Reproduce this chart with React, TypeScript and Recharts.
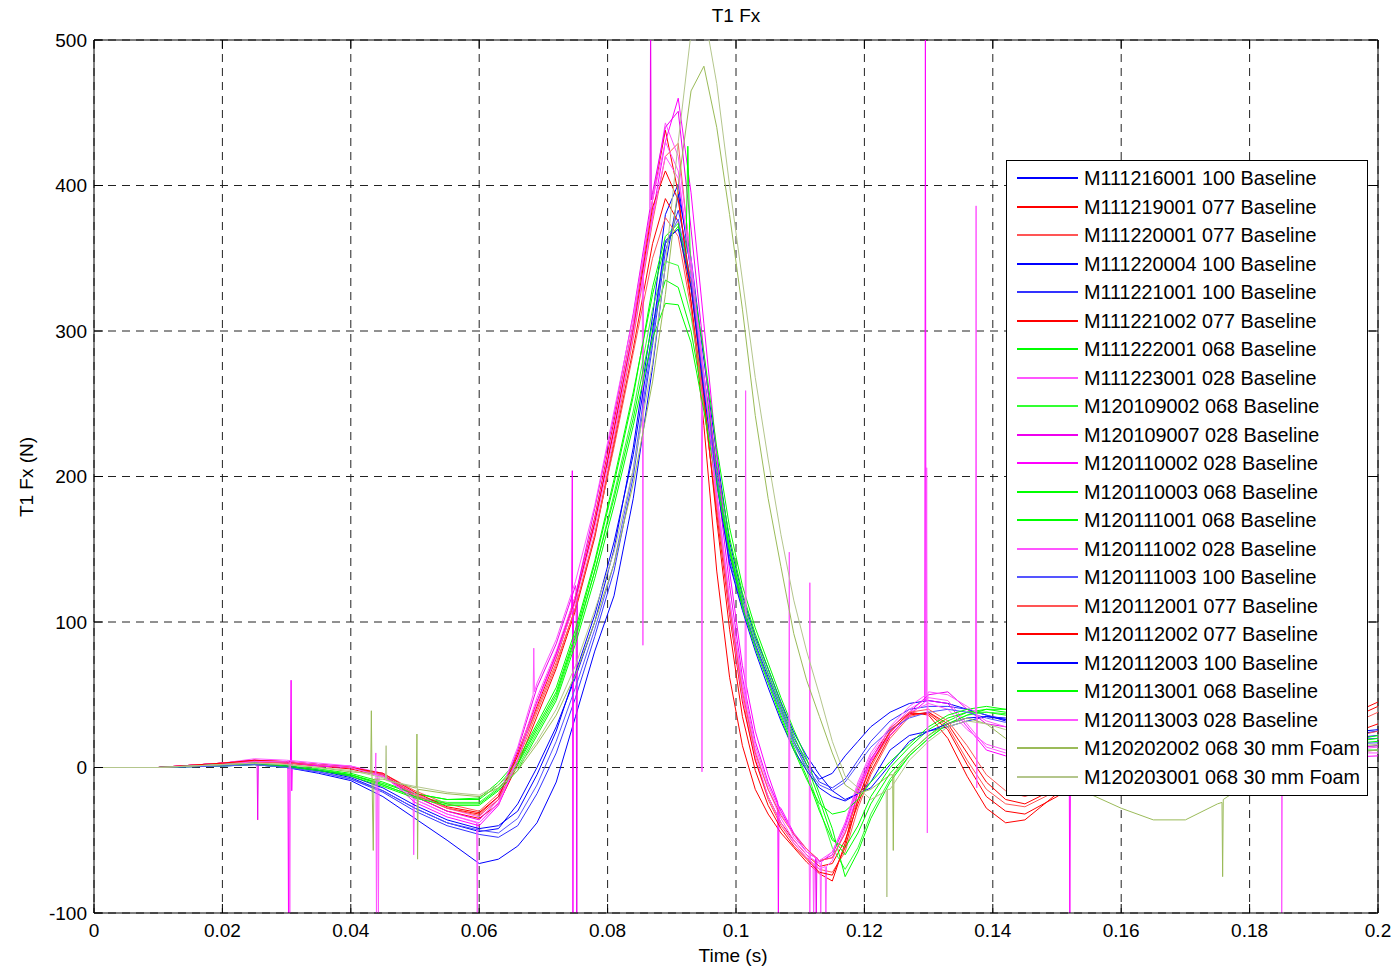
import React from "react";
import { LineChart, Line, XAxis, YAxis, CartesianGrid, ReferenceLine } from "recharts";

// sample times (s) shared by all runs
const T = [
  0, 0.01, 0.02, 0.025, 0.03, 0.035, 0.04, 0.045,
  0.05, 0.055, 0.06, 0.063, 0.066, 0.069, 0.072, 0.075,
  0.078, 0.081, 0.084, 0.087, 0.089, 0.091, 0.093, 0.095,
  0.097, 0.099, 0.101, 0.103, 0.105, 0.107, 0.109, 0.111,
  0.113, 0.115, 0.117, 0.119, 0.121, 0.124, 0.127, 0.13,
  0.133, 0.136, 0.139, 0.142, 0.145, 0.15, 0.155, 0.16,
  0.165, 0.17, 0.175, 0.18, 0.185, 0.19, 0.195, 0.2,
];

// T1 Fx (N) per run at the times above
const M111216001 = [
  0, 0, 2, 3, 1, -2, -7, -16,
  -28, -38, -44, -42, -25, 0, 28, 62,
  100, 150, 220, 310, 380, 401, 340, 265,
  200, 145, 112, 85, 62, 40, 18, 2,
  -8, -4, 8, 18, 28, 38, 44, 46,
  44, 40, 36, 32, 30, 28, 26, 25,
  24, 22, 22, 20, 20, 22, 22, 25,
];
const M111219001 = [
  0, 0, 3, 5, 4, 2, 0, -5,
  -18, -28, -32, -20, 10, 45, 78, 118,
  172, 238, 305, 390, 438, 395, 320, 235,
  135, 62, 15, -15, -32, -45, -55, -65,
  -73, -78, -52, -16, 5, 27, 38, 36,
  20, -6, -28, -38, -36, -18, -5, 5,
  12, 15, 14, 12, 15, 25, 35, 45,
];
const M111220001 = [
  0, 0, 3, 4, 4, 2, 0, -4,
  -16, -25, -30, -18, 8, 40, 72, 110,
  160, 225, 295, 375, 420, 429, 345, 265,
  185, 110, 48, 5, -22, -40, -52, -62,
  -70, -72, -58, -28, -5, 20, 35, 38,
  28, 5, -15, -25, -27, -16, -4, 6,
  12, 14, 12, 12, 14, 20, 28, 38,
];
const M111220004 = [
  0, 0, 1, 2, 0, -4, -9, -20,
  -35, -50, -66, -63, -54, -38, -10, 35,
  80, 118, 185, 275, 345, 394, 350, 280,
  215, 155, 118, 90, 68, 45, 24, 8,
  -5, -16, -22, -18, -10, 12, 22, 25,
  28, 32, 35, 34, 32, 28, 25, 22,
  20, 20, 18, 18, 18, 19, 20, 22,
];
const M111221001 = [
  0, 0, 2, 2, 0, -3, -8, -17,
  -30, -40, -46, -48, -40, -18, 10, 48,
  90, 135, 200, 290, 355, 383, 345, 270,
  205, 150, 115, 88, 65, 42, 20, 5,
  -10, -14, -8, 5, 18, 32, 40, 42,
  42, 40, 36, 33, 30, 27, 24, 22,
  20, 18, 18, 17, 17, 18, 19, 20,
];
const M111221002 = [
  0, 0, 3, 4, 3, 1, -1, -6,
  -20, -30, -35, -25, 2, 35, 68, 108,
  158, 222, 288, 360, 391, 375, 320, 250,
  175, 105, 45, 5, -20, -38, -50, -60,
  -68, -66, -50, -25, -3, 22, 36, 38,
  30, 10, -10, -22, -25, -14, -2, 6,
  10, 12, 12, 11, 12, 16, 22, 30,
];
const M111222001 = [
  0, 0, 2, 3, 1, -1, -4, -10,
  -18, -22, -22, -12, 3, 28, 52, 92,
  140, 195, 255, 330, 365, 374, 330, 268,
  208, 158, 120, 92, 68, 44, 22, 2,
  -22, -48, -60, -45, -25, -4, 10, 22,
  32, 38, 38, 36, 34, 30, 26, 22,
  20, 18, 16, 15, 15, 15, 16, 18,
];
const M111223001 = [
  0, 0, 3, 5, 4, 2, 0, -6,
  -22, -32, -38, -24, 8, 48, 80, 118,
  170, 235, 305, 390, 443, 420, 350, 270,
  190, 115, 55, 12, -15, -35, -50, -60,
  -66, -58, -38, -12, 8, 26, 40, 48,
  46, 30, 14, 10, 9, 8, 8, 8,
  8, 8, 8, 8, 8, 9, 10, 12,
];
const M120109002 = [
  0, 0, 2, 3, 1, -1, -5, -12,
  -20, -24, -24, -14, 0, 24, 48, 88,
  135, 188, 245, 315, 348, 345, 310, 255,
  200, 152, 116, 88, 64, 40, 18, -2,
  -28, -55, -70, -55, -32, -8, 8, 20,
  30, 36, 38, 37, 34, 30, 26, 22,
  20, 18, 17, 16, 15, 14, 14, 15,
];
const M120109007 = [
  0, 0, 3, 5, 4, 2, 1, -5,
  -20, -30, -36, -22, 12, 55, 85, 125,
  178, 242, 312, 395, 440, 451, 370, 285,
  200, 125, 62, 18, -10, -30, -46, -58,
  -65, -60, -40, -14, 6, 24, 38, 50,
  52, 40, 30, 28, 26, 22, 18, 15,
  14, 13, 12, 12, 12, 12, 13, 15,
];
const M120110002 = [
  0, 0, 3, 5, 3, 1, 0, -5,
  -24, -34, -40, -26, 5, 45, 78, 116,
  168, 232, 300, 380, 430, 460, 395, 305,
  215, 135, 70, 25, -5, -28, -45, -56,
  -64, -62, -45, -18, 4, 22, 36, 46,
  44, 28, 12, 8, 7, 6, 6, 6,
  6, 6, 6, 6, 6, 6, 7, 8,
];
const M120110003 = [
  0, 0, 1, 2, 0, -2, -5, -12,
  -20, -25, -25, -15, 2, 26, 50, 90,
  135, 185, 240, 305, 335, 330, 300, 250,
  198, 150, 112, 84, 60, 36, 14, -6,
  -30, -50, -55, -40, -20, 0, 14, 26,
  34, 38, 40, 38, 35, 30, 25, 22,
  20, 18, 17, 16, 16, 16, 17, 20,
];
const M120111001 = [
  0, 0, 2, 3, 1, -2, -5, -11,
  -18, -22, -21, -10, 5, 30, 55, 95,
  142, 198, 258, 325, 360, 372, 340, 285,
  220, 165, 125, 96, 72, 48, 26, 6,
  -18, -42, -75, -58, -35, -10, 8, 20,
  30, 36, 40, 40, 38, 33, 28, 24,
  20, 18, 16, 14, 13, 12, 12, 12,
];
const M120111002 = [
  0, 0, 3, 6, 5, 3, 1, -4,
  -18, -28, -34, -20, 14, 58, 88, 128,
  180, 245, 310, 390, 430, 410, 340, 262,
  182, 108, 48, 8, -20, -38, -52, -62,
  -70, -64, -42, -15, 5, 24, 38, 44,
  40, 26, 16, 12, 10, 10, 9, 9,
  9, 9, 9, 9, 9, 10, 10, 10,
];
const M120111003 = [
  0, 0, 1, 2, 0, -3, -8, -16,
  -28, -38, -43, -45, -35, -12, 18, 55,
  95, 140, 205, 295, 360, 377, 335, 262,
  198, 142, 110, 84, 60, 38, 16, 0,
  -12, -16, -10, 2, 14, 26, 34, 38,
  40, 38, 34, 31, 28, 25, 22, 20,
  18, 17, 16, 16, 15, 15, 16, 17,
];
const M120112001 = [
  0, 0, 3, 4, 3, 2, 0, -5,
  -19, -28, -33, -22, 5, 38, 70, 110,
  160, 220, 285, 350, 378, 365, 315, 248,
  178, 110, 52, 10, -15, -33, -46, -56,
  -64, -62, -45, -22, 0, 24, 38, 40,
  32, 15, -5, -16, -20, -12, -2, 5,
  10, 12, 11, 10, 12, 15, 20, 25,
];
const M120112002 = [
  0, 0, 3, 5, 4, 2, 0, -4,
  -17, -27, -31, -20, 8, 42, 75, 115,
  168, 232, 300, 385, 410, 390, 330, 255,
  170, 95, 35, -2, -26, -42, -54, -63,
  -72, -74, -55, -22, 2, 25, 37, 37,
  26, 2, -20, -30, -32, -20, -6, 4,
  10, 13, 12, 12, 14, 22, 32, 42,
];
const M120112003 = [
  0, 0, 2, 3, 1, -2, -6, -14,
  -26, -36, -42, -40, -30, -5, 25, 65,
  105, 155, 215, 300, 362, 370, 330, 258,
  195, 140, 108, 80, 55, 32, 12, -2,
  -14, -20, -23, -18, -14, 2, 18, 25,
  30, 34, 35, 33, 31, 28, 26, 24,
  22, 21, 20, 20, 21, 22, 24, 26,
];
const M120113001 = [
  0, 0, 2, 3, 1, -2, -6, -13,
  -21, -26, -26, -16, -2, 22, 46, 85,
  130, 180, 235, 295, 319, 318, 292, 245,
  195, 148, 110, 82, 58, 34, 12, -8,
  -25, -32, -30, -22, -10, 4, 16, 28,
  36, 40, 42, 40, 36, 32, 28, 24,
  22, 20, 18, 17, 16, 16, 18, 22,
];
const M120113003 = [
  0, 0, 2, 4, 4, 2, 0, -6,
  -22, -32, -38, -25, 6, 44, 76, 114,
  165, 228, 298, 378, 420, 405, 345, 268,
  188, 115, 58, 15, -12, -32, -48, -58,
  -64, -58, -38, -10, 10, 28, 42, 52,
  50, 42, 32, 28, 25, 20, 16, 14,
  12, 11, 10, 10, 10, 11, 12, 14,
];
const M120202002 = [
  0, 0, 2, 3, 2, 0, -3, -8,
  -14, -18, -20, -14, -2, 16, 36, 64,
  100, 140, 195, 265, 325, 400, 465, 482,
  440, 380, 315, 242, 185, 138, 92, 60,
  35, 10, -12, -18, -15, -5, 10, 22,
  30, 34, 30, 20, 8, -8, -18, -28,
  -36, -36, -25, -10, 2, 8, 10, 12,
];
const M120203001 = [
  0, 0, 2, 3, 2, 0, -2, -7,
  -13, -17, -19, -12, 0, 18, 40, 70,
  108, 148, 205, 278, 345, 430, 505, 520,
  470, 400, 335, 268, 212, 160, 115, 80,
  50, 18, -6, -14, -22, -15, 5, 18,
  28, 32, 30, 26, 20, 12, 8, 6,
  5, 5, 6, 8, 10, 12, 14, 16,
];

// single-sample glitches, [time, value]
const GLITCH_M111223001: [number, number][] = [
  [0.0442, -5], [0.0443, -110], [0.0444, -6],
  [0.0497, -20], [0.0498, -60], [0.0499, -20],
  [0.0596, -38], [0.0597, -110], [0.0598, -38],
  [0.0854, 348], [0.0855, 84], [0.0856, 352],
  [0.1114, -62], [0.1115, -110], [0.1116, -62],
  [0.1131, -66], [0.1132, -110], [0.1133, -65],
];
const GLITCH_M120109007: [number, number][] = [
  [0.0254, 4], [0.0255, -36], [0.0256, 4],
  [0.0751, 122], [0.0752, -110], [0.0753, 124],
  [0.0866, 384], [0.0867, 520], [0.0868, 390],
  [0.1124, -62], [0.1125, -110], [0.1126, -62],
];
const GLITCH_M120110002: [number, number][] = [
  [0.0302, 4], [0.0303, -110], [0.0304, 3],
  [0.0306, 3], [0.0307, 60], [0.0308, -16], [0.0309, 3],
  [0.0744, 108], [0.0745, 204], [0.0746, -110], [0.0747, 112],
  [0.1065, -24], [0.1066, -110], [0.1067, -27],
  [0.1294, 45], [0.1295, 520], [0.1296, 46],
  [0.1519, 6], [0.152, -110], [0.1521, 6],
];
const GLITCH_M120111001: [number, number][] = [
  [0.0922, 353], [0.0925, 427], [0.0929, 342],
];
const GLITCH_M120111002: [number, number][] = [
  [0.0684, 50], [0.0685, 82], [0.0686, 52],
  [0.0946, 278], [0.0947, -3], [0.0948, 270],
  [0.1014, 40], [0.1015, 259], [0.1016, 38],
  [0.1114, -63], [0.1115, 127], [0.1116, -64],
  [0.1120, -66], [0.1121, -110], [0.1122, -66],
  [0.1139, -68], [0.114, -110], [0.1141, -68],
];
const GLITCH_M120113003: [number, number][] = [
  [0.0304, 4], [0.0305, -110], [0.0306, 4],
  [0.0438, -5], [0.0439, 10], [0.044, -110], [0.0441, -5],
  [0.1082, -40], [0.1083, 148], [0.1084, -42],
  [0.1296, 50], [0.1297, 206], [0.1298, -45], [0.1299, 51],
  [0.1373, 38], [0.1374, 386], [0.1375, -14], [0.1376, 36],
  [0.1849, 10], [0.185, -110], [0.1851, 10],
];
const GLITCH_M120202002: [number, number][] = [
  [0.0431, -4], [0.0432, 39], [0.0433, -6], [0.0435, -57], [0.0436, -8],
  [0.0502, -14], [0.0503, 23], [0.0504, -63], [0.0505, -15],
  [0.1244, -5], [0.1245, -57], [0.1246, -4],
  [0.1757, -24], [0.1758, -75], [0.1759, -22],
];
const GLITCH_M120203001: [number, number][] = [
  [0.0454, -8], [0.0455, 15], [0.0456, -9],
  [0.1234, -16], [0.1235, -89], [0.1236, -15],
];

const X_TICKS = [0, 0.02, 0.04, 0.06, 0.08, 0.1, 0.12, 0.14, 0.16, 0.18, 0.2];
const Y_TICKS = [-100, 0, 100, 200, 300, 400, 500];

const SERIES = [
  { name: "M111216001 100 Baseline", values: M111216001, glitches: [], color: "#0000ff" },
  { name: "M111219001 077 Baseline", values: M111219001, glitches: [], color: "#ff0000" },
  { name: "M111220001 077 Baseline", values: M111220001, glitches: [], color: "#ff5555" },
  { name: "M111220004 100 Baseline", values: M111220004, glitches: [], color: "#0000ff" },
  { name: "M111221001 100 Baseline", values: M111221001, glitches: [], color: "#3333ff" },
  { name: "M111221002 077 Baseline", values: M111221002, glitches: [], color: "#ff0000" },
  { name: "M111222001 068 Baseline", values: M111222001, glitches: [], color: "#00ff00" },
  { name: "M111223001 028 Baseline", values: M111223001, glitches: GLITCH_M111223001, color: "#ff55ff" },
  { name: "M120109002 068 Baseline", values: M120109002, glitches: [], color: "#33ff33" },
  { name: "M120109007 028 Baseline", values: M120109007, glitches: GLITCH_M120109007, color: "#ee00ee" },
  { name: "M120110002 028 Baseline", values: M120110002, glitches: GLITCH_M120110002, color: "#ff00ff" },
  { name: "M120110003 068 Baseline", values: M120110003, glitches: [], color: "#00ff00" },
  { name: "M120111001 068 Baseline", values: M120111001, glitches: GLITCH_M120111001, color: "#00ff00" },
  { name: "M120111002 028 Baseline", values: M120111002, glitches: GLITCH_M120111002, color: "#ff55ff" },
  { name: "M120111003 100 Baseline", values: M120111003, glitches: [], color: "#5555ff" },
  { name: "M120112001 077 Baseline", values: M120112001, glitches: [], color: "#ff5555" },
  { name: "M120112002 077 Baseline", values: M120112002, glitches: [], color: "#ff0000" },
  { name: "M120112003 100 Baseline", values: M120112003, glitches: [], color: "#0000ff" },
  { name: "M120113001 068 Baseline", values: M120113001, glitches: [], color: "#00ff00" },
  { name: "M120113003 028 Baseline", values: M120113003, glitches: GLITCH_M120113003, color: "#ff55ff" },
  { name: "M120202002 068 30 mm Foam", values: M120202002, glitches: GLITCH_M120202002, color: "#9bbb59" },
  { name: "M120203001 068 30 mm Foam", values: M120203001, glitches: GLITCH_M120203001, color: "#b4c68c" },
];

const FONT = '"Liberation Sans", Arial, Helvetica, sans-serif';
const W = 1397;
const H = 970;
// plot box in page pixels
const BOX = { left: 94, right: 1378, top: 40, bottom: 913 };
const LEGEND_ROW = 28.52;

function toPoints(values: number[], glitches: [number, number][]) {
  const pts = T.map((t, i) => ({ t, v: values[i] }));
  glitches.forEach(([t, v]) => pts.push({ t, v }));
  return pts.sort((a, b) => a.t - b.t);
}

function XTick(props: any) {
  const x = props.payload.coordinate;
  return (
    <g>
      <line x1={x} x2={x} y1={BOX.bottom} y2={BOX.bottom - 9} stroke="#000" />
      <line x1={x} x2={x} y1={BOX.top} y2={BOX.top + 9} stroke="#000" />
      <text x={x} y={BOX.bottom + 11} dy="0.71em" textAnchor="middle" fontSize={19} fontFamily={FONT} fill="#000">
        {String(props.payload.value)}
      </text>
    </g>
  );
}

function YTick(props: any) {
  const y = props.payload.coordinate;
  return (
    <g>
      <line x1={BOX.left} x2={BOX.left + 9} y1={y} y2={y} stroke="#000" />
      <line x1={BOX.right - 9} x2={BOX.right} y1={y} y2={y} stroke="#000" />
      <text x={BOX.left - 7} y={y} dy="0.35em" textAnchor="end" fontSize={19} fontFamily={FONT} fill="#000">
        {String(props.payload.value)}
      </text>
    </g>
  );
}

export default function App() {
  return (
    <div style={{ position: "absolute", left: 0, top: 0, width: W, height: H, background: "#fff", fontFamily: FONT }}>
      <LineChart width={W} height={H} margin={{ top: BOX.top, right: W - BOX.right, bottom: 0, left: 0 }}>
        <CartesianGrid stroke="#222" strokeDasharray="8 6" />
        <XAxis
          type="number"
          dataKey="t"
          domain={[0, 0.2]}
          ticks={X_TICKS}
          interval={0}
          allowDataOverflow
          height={H - BOX.bottom}
          stroke="#000"
          tickLine={false}
          tick={XTick}
        />
        <YAxis
          type="number"
          domain={[-100, 500]}
          ticks={Y_TICKS}
          interval={0}
          allowDataOverflow
          width={BOX.left}
          stroke="#000"
          tickLine={false}
          tick={YTick}
        />
        <ReferenceLine y={500} stroke="#000" strokeWidth={1} />
        <ReferenceLine x={0.2} stroke="#000" strokeWidth={1} />
        {SERIES.map((s) => (
          <Line
            key={s.name}
            data={toPoints(s.values, s.glitches as [number, number][])}
            dataKey="v"
            name={s.name}
            type="linear"
            stroke={s.color}
            strokeWidth={1}
            dot={false}
            isAnimationActive={false}
          />
        ))}
      </LineChart>

      <div style={{ position: "absolute", left: 636, top: 6, width: 200, textAlign: "center", fontSize: 19, lineHeight: "20px" }}>
        T1 Fx
      </div>
      <div style={{ position: "absolute", left: 633, top: 946, width: 200, textAlign: "center", fontSize: 19, lineHeight: "20px" }}>
        Time (s)
      </div>
      <div
        style={{
          position: "absolute",
          left: -73,
          top: 467,
          width: 200,
          textAlign: "center",
          fontSize: 19,
          lineHeight: "20px",
          transform: "rotate(-90deg)",
        }}
      >
        T1 Fx (N)
      </div>

      <div
        style={{
          position: "absolute",
          left: 1006,
          top: 160,
          width: 362,
          height: 636,
          boxSizing: "border-box",
          border: "1px solid #000",
          background: "#fff",
        }}
      >
        {SERIES.map((s, i) => {
          const cy = Math.round(17 + i * LEGEND_ROW);
          return (
            <React.Fragment key={s.name}>
              <div style={{ position: "absolute", left: 10, top: cy - 1, width: 61, height: 2, background: s.color }} />
              <div
                style={{
                  position: "absolute",
                  left: 77,
                  top: cy - 14,
                  height: 28,
                  lineHeight: "28px",
                  fontSize: 19.8,
                  whiteSpace: "nowrap",
                  color: "#000",
                }}
              >
                {s.name}
              </div>
            </React.Fragment>
          );
        })}
      </div>
    </div>
  );
}
